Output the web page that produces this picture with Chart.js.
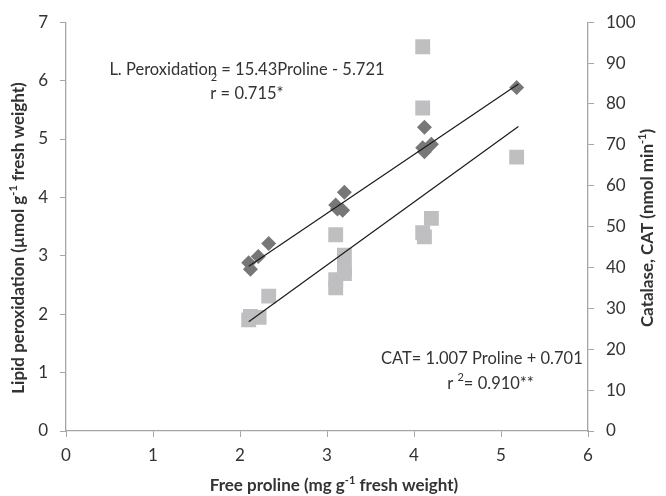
<!DOCTYPE html>
<html>
<head>
<meta charset="utf-8">
<script src="https://cdn.jsdelivr.net/npm/chart.js@4"></script>
<style>
  html, body { margin: 0; padding: 0; background: #fff; }
  #wrap { width: 666px; height: 496px; }
</style>
</head>
<body>
<div id="wrap"><canvas id="chart" width="666" height="496"></canvas></div>
<script>
// lipid peroxidation (left axis) vs free proline
const lipidX = [2.10, 2.12, 2.21, 2.33, 3.10, 3.12, 3.18, 3.20, 4.10, 4.12, 4.12, 4.20, 5.18];
const lipidY = [2.88, 2.77, 2.99, 3.21, 3.87, 3.80, 3.78, 4.09, 4.85, 4.78, 5.20, 4.91, 5.88];

// catalase (right axis) vs free proline
const catX = [2.10, 2.12, 2.22, 2.33, 3.10, 3.10, 3.10, 3.20, 3.20, 3.20, 4.10, 4.10, 4.10, 4.12, 4.20, 5.18];
const catY = [27.2, 28.0, 27.8, 33.0, 48.0, 37.0, 35.0, 43.0, 39.5, 38.5, 94.0, 79.0, 48.5, 47.5, 52.0, 67.0];

// trend line end points
const lipidFitX = [2.10, 5.20];
const lipidFitY = [2.82, 5.94];
const catFitX = [2.10, 5.20];
const catFitY = [26.7, 74.5];

const xTicks = [0, 1, 2, 3, 4, 5, 6];
const leftTicks = [0, 1, 2, 3, 4, 5, 6, 7];
const rightTicks = [0, 10, 20, 30, 40, 50, 60, 70, 80, 90, 100];

const toPoints = (xs, ys) => xs.map((x, i) => ({ x: x, y: ys[i] }));

const axisGray = '#a6a6a6';
const textGray = '#333333';
const font = 'Lato, "Open Sans", sans-serif';

// rich text helper: segments with optional superscript
function drawRich(ctx, segs, size, weight, cx, cy, rotate) {
  ctx.save();
  ctx.translate(cx, cy);
  if (rotate) ctx.rotate(rotate);
  ctx.fillStyle = textGray;
  ctx.textBaseline = 'middle';
  ctx.textAlign = 'left';
  let total = 0;
  segs.forEach(s => {
    ctx.font = weight + ' ' + (s.sup ? Math.round(size * 0.65) : size) + 'px ' + font;
    s.w = ctx.measureText(s.t).width;
    total += s.w;
  });
  let x = -total / 2;
  segs.forEach(s => {
    ctx.font = weight + ' ' + (s.sup ? Math.round(size * 0.65) : size) + 'px ' + font;
    ctx.fillText(s.t, x, s.sup ? -size * 0.35 : 0);
    x += s.w;
  });
  ctx.restore();
}

const textPlugin = {
  id: 'texts',
  afterDraw(chart) {
    const ctx = chart.ctx;
    const xs = chart.scales.x, yl = chart.scales.y, yr = chart.scales.y1;

    // axis titles
    drawRich(ctx, [{ t: 'Free proline (mg g' }, { t: '-1', sup: true }, { t: ' fresh weight)' }],
      17, 'bold', 334, 486, 0);
    drawRich(ctx, [{ t: 'Lipid peroxidation (\u00b5mol g' }, { t: '-1', sup: true }, { t: ' fresh weight)' }],
      17, 'bold', 19, 238, -Math.PI / 2);
    drawRich(ctx, [{ t: 'Catalase, CAT (nmol min' }, { t: '-1', sup: true }, { t: ')' }],
      17, 'bold', 648, 228, -Math.PI / 2);

    // regression labels
    ctx.save();
    ctx.fillStyle = textGray;
    ctx.textBaseline = 'middle';
    ctx.textAlign = 'center';
    ctx.font = '16.5px ' + font;
    const ax = xs.getPixelForValue(2.08);
    ctx.fillText('L. Peroxidation = 15.43Proline - 5.721', ax, yl.getPixelForValue(6.18));
    ctx.fillText('r = 0.715*', ax, yl.getPixelForValue(5.78));
    ctx.font = '11px ' + font;
    ctx.fillText('2', xs.getPixelForValue(1.70), yl.getPixelForValue(6.06));
    ctx.restore();

    drawRich(ctx, [{ t: 'CAT= 1.007 Proline + 0.701' }], 16.5, 'normal',
      xs.getPixelForValue(4.78), yr.getPixelForValue(17.7), 0);
    drawRich(ctx, [{ t: 'r ' }, { t: '2', sup: true }, { t: '= 0.910**' }], 16.5, 'normal',
      xs.getPixelForValue(4.88), yr.getPixelForValue(11.6), 0);
  }
};

const ctx = document.getElementById('chart').getContext('2d');
new Chart(ctx, {
  type: 'scatter',
  data: {
    datasets: [
      {
        label: 'Lipid fit',
        data: toPoints(lipidFitX, lipidFitY),
        yAxisID: 'y',
        showLine: true,
        borderColor: '#1a1a1a',
        borderWidth: 1.2,
        pointRadius: 0,
        order: 0
      },
      {
        label: 'CAT fit',
        data: toPoints(catFitX, catFitY),
        yAxisID: 'y1',
        showLine: true,
        borderColor: '#1a1a1a',
        borderWidth: 1.2,
        pointRadius: 0,
        order: 0
      },
      {
        label: 'CAT',
        data: toPoints(catX, catY),
        yAxisID: 'y1',
        pointStyle: 'rect',
        pointRadius: 10.5,
        backgroundColor: '#bfbfc2',
        borderWidth: 0,
        order: 2
      },
      {
        label: 'Lipid peroxidation',
        data: toPoints(lipidX, lipidY),
        yAxisID: 'y',
        pointStyle: 'rectRot',
        pointRadius: 7.5,
        backgroundColor: '#777777',
        borderWidth: 0,
        order: 1
      }
    ]
  },
  options: {
    responsive: false,
    animation: false,
    layout: { padding: { top: 19, left: 0, right: 0, bottom: 0 } },
    plugins: { legend: { display: false }, tooltip: { enabled: false } },
    scales: {
      x: {
        type: 'linear',
        min: 0, max: 6,
        afterBuildTicks: s => { s.ticks = xTicks.map(v => ({ value: v })); },
        afterFit: s => { s.height = 65; },
        grid: { drawOnChartArea: false, tickLength: 6, color: axisGray },
        border: { color: axisGray, width: 1.3 },
        ticks: { color: textGray, font: { family: font, size: 17 }, padding: 8 }
      },
      y: {
        position: 'left',
        min: 0, max: 7,
        afterBuildTicks: s => { s.ticks = leftTicks.map(v => ({ value: v })); },
        afterFit: s => { s.width = 66; },
        grid: { drawOnChartArea: false, tickLength: 6, color: axisGray },
        border: { color: axisGray, width: 1.3 },
        ticks: { color: textGray, font: { family: font, size: 17 }, padding: 12 }
      },
      y1: {
        position: 'right',
        min: 0, max: 100,
        afterBuildTicks: s => { s.ticks = rightTicks.map(v => ({ value: v })); },
        afterFit: s => { s.width = 78; },
        grid: { drawOnChartArea: false, tickLength: 6, color: axisGray },
        border: { color: axisGray, width: 1.3 },
        ticks: { color: textGray, font: { family: font, size: 17 }, padding: 12 }
      }
    }
  },
  plugins: [textPlugin]
});
</script>
</body>
</html>
